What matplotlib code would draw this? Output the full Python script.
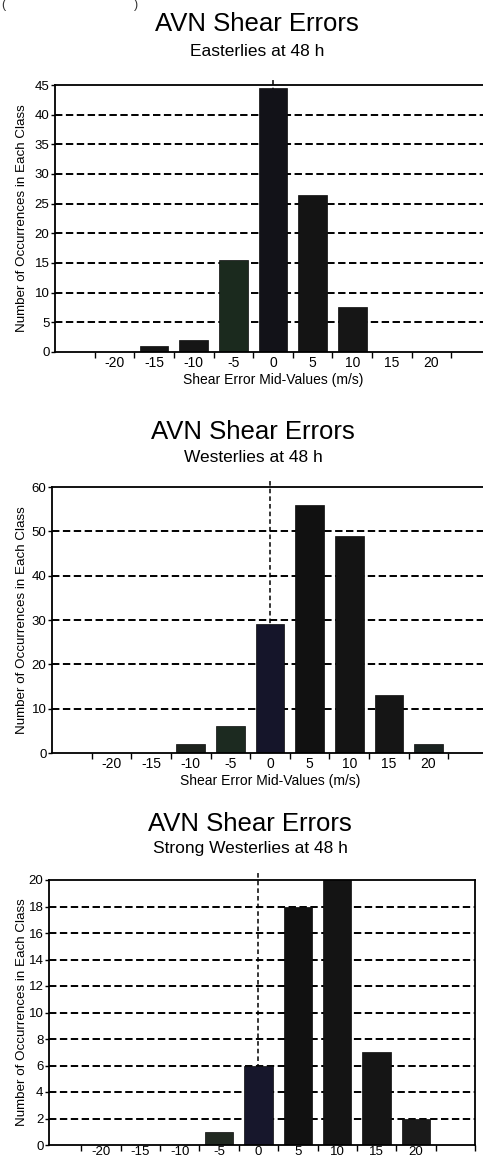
import numpy as np
import matplotlib
matplotlib.use("Agg")
import matplotlib.pyplot as plt

plt.rcParams['font.family'] = ['Liberation Sans', 'DejaVu Sans']

# klasy (srodki przedzialow bledu)
mid_values = [-20, -15, -10, -5, 0, 5, 10, 15, 20]

# liczba przypadkow w kazdej klasie
easterlies = [0, 1, 2, 15.5, 44.5, 26.5, 7.5, 0, 0]
westerlies = [0, 0, 2, 6, 29, 56, 49, 13, 2]
strong_westerlies = [0, 0, 0, 1, 6, 18, 20, 7, 2]

title = "AVN Shear Errors"
subtitles = ["Easterlies at 48 h", "Westerlies at 48 h", "Strong Westerlies at 48 h"]
ylabel = "Number of Occurrences in Each Class"
xlabel = "Shear Error Mid-Values (m/s)"

W, H = 483, 1160
fig = plt.figure(figsize=(W / 100, H / 100), dpi=100)

def px_box(left, top, right, bottom):
    return [left / W, 1 - bottom / H, (right - left) / W, (bottom - top) / H]

# (dane, yticks, pozycja w px, xlim, y tytulu, y podtytulu, x tytulu, czy xlabel, kolory)
panels = [
    (easterlies, np.arange(0, 46, 5), (55, 85, 491, 352), (-27.5, 27.5), 24, 51, 257, True,
     ['#111', '#151515', '#161616', '#1b2a1e', '#121218', '#141414', '#161616', '#111', '#111']),
    (westerlies, np.arange(0, 61, 10), (52, 487, 488, 753), (-27.5, 27.5), 432, 457, 253, True,
     ['#111', '#111', '#1d221d', '#1c2a20', '#15152a', '#111111', '#141414', '#151515', '#1a2220']),
    (strong_westerlies, np.arange(0, 21, 2), (49, 880, 475, 1145), (-26.6, 27.5), 824, 849, 250, False,
     ['#111', '#111', '#111', '#222a22', '#17172c', '#111111', '#141414', '#151515', '#1a1a1a']),
]

for (data, yt, box, xl, ty, sty, tx, has_xlabel, cols), sub in zip(panels, subtitles):
    ax = fig.add_axes(px_box(*box))
    ax.set_xlim(*xl)
    ax.set_ylim(0, yt[-1])

    # linie siatki (przerywane)
    for v in yt[1:-1]:
        ax.axhline(v, color='black', lw=1.4, ls=(0, (3.8, 1.8)), zorder=1)
    ax.axvline(0, ymin=0, ymax=1.025, color='black', lw=1.1, ls=(0, (3, 2)),
               zorder=1, clip_on=False)

    ax.bar(mid_values, data, width=3.6, color=cols, edgecolor='#0a0a0a', lw=0.5, zorder=2)

    # podzialki: kreski na granicach klas, etykiety na srodkach
    ax.set_xticks(np.arange(-22.5, 27.6, 5))
    ax.set_xticklabels([])
    ax.set_xticks(mid_values, minor=True)
    ax.set_xticklabels([str(v) for v in mid_values], minor=True,
                       fontsize=10 if has_xlabel else 9.5)
    ax.tick_params(axis='x', which='major', direction='out', length=4, width=1)
    ax.tick_params(axis='x', which='minor', length=0, pad=3 if has_xlabel else 1)
    ax.set_yticks(yt)
    ax.set_yticklabels([str(v) for v in yt], fontsize=9.5)
    ax.tick_params(axis='y', direction='out', length=3, width=1, pad=1)

    for s in ax.spines.values():
        s.set_linewidth(1.3)
        s.set_zorder(3)

    if has_xlabel:
        ax.set_xlabel(xlabel, fontsize=10, labelpad=2)

    fig.text(22 / W, 1 - ((box[1] + box[3]) / 2) / H, ylabel, rotation=90,
             ha='center', va='center', fontsize=9.6)
    fig.text(tx / W, 1 - ty / H, title, ha='center', va='center', fontsize=18.5)
    fig.text(tx / W, 1 - sty / H, sub, ha='center', va='center', fontsize=12.5)

# fragment tekstu uciety u gory skanu
fig.text(1 / W, 1 - 5 / H, "(", ha='left', va='center', fontsize=9, color='#333')
fig.text(134 / W, 1 - 5 / H, ")", ha='left', va='center', fontsize=9, color='#333')

fig.savefig("out.png", dpi=100)
